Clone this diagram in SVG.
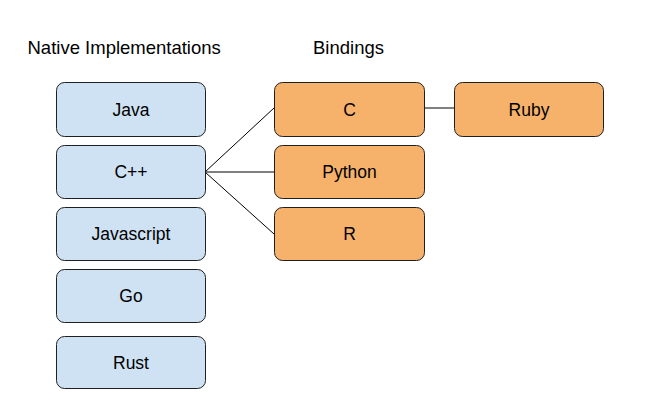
<svg xmlns="http://www.w3.org/2000/svg" width="668" height="417" viewBox="0 0 668 417">
<style>
.n rect{stroke:#1f1f1f;stroke-width:1;}
.blue rect{fill:#cfe2f3;}
.orange rect{fill:#f6b26b;}
text{font-family:"Liberation Sans",Arial,sans-serif;fill:#000;}
.lbl{font-size:17.5px;text-anchor:middle;}
.title{font-size:18.5px;}
.edges line{stroke:#000;stroke-width:1;}
</style>
<rect width="668" height="417" fill="#fff"/>
<text class="title" x="27.5" y="54">Native Implementations</text>
<text class="title" x="313" y="54">Bindings</text>
<g class="edges">
<line x1="205" y1="172" x2="274" y2="108"/>
<line x1="205" y1="172" x2="274" y2="172"/>
<line x1="205" y1="172" x2="274" y2="234"/>
<line x1="424" y1="108" x2="454" y2="108"/>
</g>
<g id="java" class="n blue"><rect x="56.5" y="82.5" width="149" height="54" rx="8"/><text class="lbl" x="131" y="115.5">Java</text></g>
<g id="cpp" class="n blue"><rect x="56.5" y="145.5" width="149" height="53" rx="8"/><text class="lbl" x="131" y="178">C++</text></g>
<g id="javascript" class="n blue"><rect x="56.5" y="207.5" width="149" height="53" rx="8"/><text class="lbl" x="131" y="240">Javascript</text></g>
<g id="go" class="n blue"><rect x="56.5" y="269.5" width="149" height="53" rx="8"/><text class="lbl" x="131" y="302">Go</text></g>
<g id="rust" class="n blue"><rect x="56.5" y="336.5" width="149" height="52" rx="8"/><text class="lbl" x="131" y="368.5">Rust</text></g>
<g id="c" class="n orange"><rect x="274.5" y="82.5" width="150" height="54" rx="8"/><text class="lbl" x="349.5" y="115.5">C</text></g>
<g id="python" class="n orange"><rect x="274.5" y="145.5" width="150" height="53" rx="8"/><text class="lbl" x="349.5" y="178">Python</text></g>
<g id="r" class="n orange"><rect x="274.5" y="207.5" width="150" height="53" rx="8"/><text class="lbl" x="349.5" y="240">R</text></g>
<g id="ruby" class="n orange"><rect x="454.5" y="82.5" width="149" height="54" rx="8"/><text class="lbl" x="529" y="115.5">Ruby</text></g>
</svg>
